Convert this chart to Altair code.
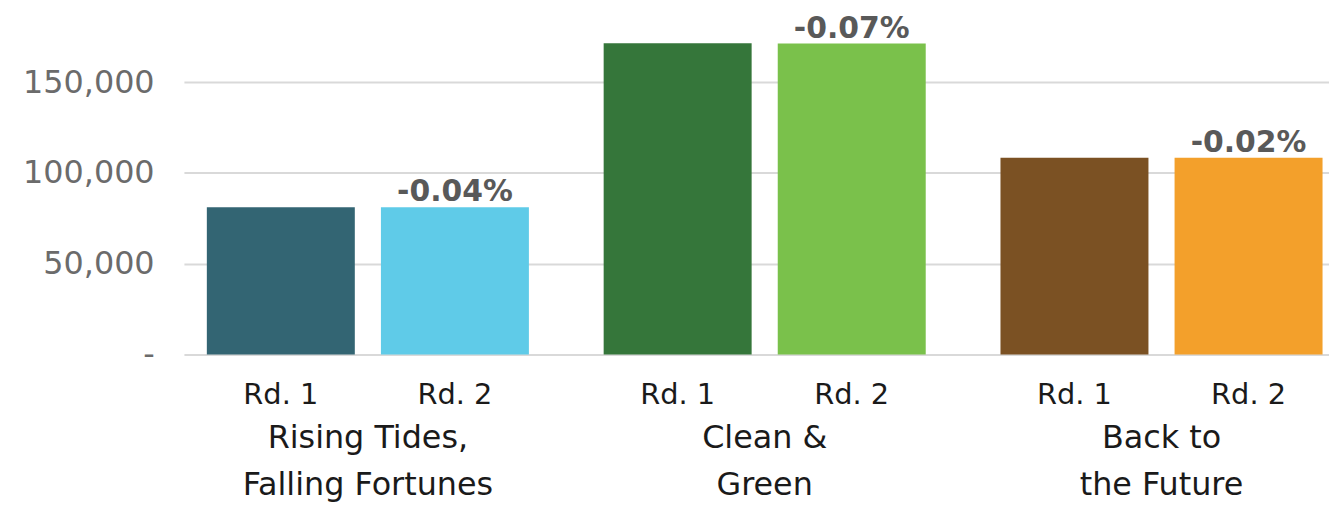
import altair as alt
import pandas as pd

groups = ["Rising Tides,\nFalling Fortunes", "Clean &\nGreen", "Back to\nthe Future"]
rounds = ["Rd. 1", "Rd. 2"]
values_rd1 = [81050, 171400, 108400]
values_rd2 = [81018, 171280, 108378]
changes = ["-0.04%", "-0.07%", "-0.02%"]
colors_rd1 = ["#336573", "#35763A", "#7B5123"]
colors_rd2 = ["#5FCBE8", "#7AC14B", "#F3A02B"]
y_ticks = [0, 50000, 100000, 150000]

rows = []
for i, g in enumerate(groups):
    rows.append({"group": g, "round": rounds[0], "value": values_rd1[i], "change": "", "key": f"{i}-1"})
    rows.append({"group": g, "round": rounds[1], "value": values_rd2[i], "change": changes[i], "key": f"{i}-2"})
df = pd.DataFrame(rows)

keys = []
cols = []
for i in range(len(groups)):
    keys += [f"{i}-1", f"{i}-2"]
    cols += [colors_rd1[i], colors_rd2[i]]

FONT = "DejaVu Sans"

x_enc = alt.X(
    "group:N",
    sort=groups,
    scale=alt.Scale(paddingInner=0.1884, paddingOuter=0.037, align=0.78),
    axis=alt.Axis(
        title=None,
        domain=False,
        ticks=False,
        labelAngle=0,
        labelPadding=69,
        labelFont=FONT,
        labelFontSize=32,
        labelColor="#1a1a1a",
        labelLineHeight=47,
        labelBaseline="top",
        labelLimit=0,
        labelExpr="split(datum.label, '\\n')",
    ),
)
xoff = alt.XOffset("round:N", sort=rounds, scale=alt.Scale(paddingInner=0.15, paddingOuter=0))

base = alt.Chart(df)

bars = base.mark_bar().encode(
    x=x_enc,
    xOffset=xoff,
    y=alt.Y(
        "value:Q",
        scale=alt.Scale(domain=[0, 190000], nice=False, zero=True),
        axis=alt.Axis(
            title=None,
            values=y_ticks,
            domain=False,
            ticks=False,
            grid=True,
            gridColor="#d9d9d9",
            gridWidth=2,
            labelPadding=30,
            labelFont=FONT,
            labelFontSize=32,
            labelColor="#6b6b6b",
            labelExpr="datum.value == 0 ? '-' : format(datum.value, ',')",
        ),
    ),
    color=alt.Color("key:N", scale=alt.Scale(domain=keys, range=cols), legend=None),
)

rd_labels = base.mark_text(
    font=FONT, fontSize=29, color="#1a1a1a", baseline="middle", align="center"
).encode(
    x=alt.X("group:N", sort=groups),
    xOffset=xoff,
    y=alt.value(388),
    text="round:N",
)

pct_labels = base.transform_filter("datum.change != ''").mark_text(
    font=FONT, fontSize=30, fontWeight="bold", color="#595959", baseline="alphabetic", align="center", dy=-6
).encode(
    x=alt.X("group:N", sort=groups),
    xOffset=xoff,
    y="value:Q",
    text="change:N",
)

chart = alt.layer(bars, rd_labels, pct_labels).properties(
    width=1152,
    height=347,
    autosize=alt.AutoSizeParams(type="none"),
    padding={"left": 177, "top": 0, "right": 0, "bottom": 150},
).configure_view(stroke=None)

chart.save("out.html", embed_options={"renderer": "svg", "actions": False})
